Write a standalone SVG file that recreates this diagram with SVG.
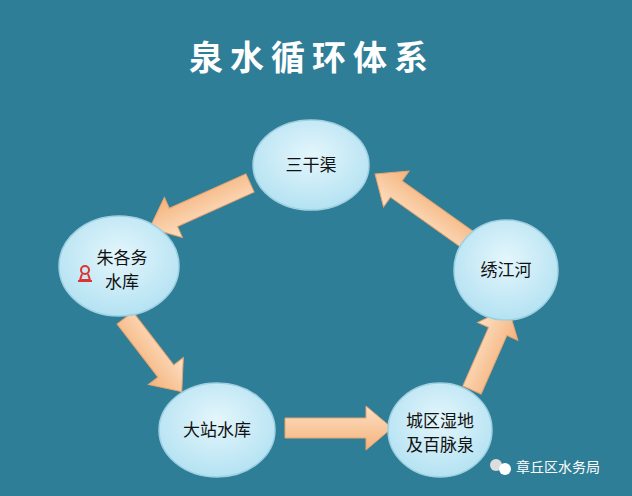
<svg xmlns="http://www.w3.org/2000/svg" width="632" height="496" viewBox="0 0 632 496">
<defs>
<radialGradient id="eg" cx="50%" cy="40%" r="60%"><stop offset="0" stop-color="#e4f6fc"/><stop offset="1" stop-color="#b4e2f2"/></radialGradient>
<linearGradient id="ag" x1="0" y1="0" x2="0" y2="1"><stop offset="0" stop-color="#fde0c4"/><stop offset="1" stop-color="#f4b27a"/></linearGradient>
<style>
.n{fill:url(#eg);stroke:#9fd0e2;stroke-width:1.5}
.t{font-family:"Noto Sans CJK SC",sans-serif;font-size:17px;fill:#111;text-anchor:middle}
.a{fill:url(#ag);stroke:#e8a470;stroke-width:1}
</style>
</defs>
<rect width="632" height="496" fill="#2f7e97"/>
<text x="312" y="70" style="font-family:'Noto Sans CJK SC',sans-serif;font-size:34px;font-weight:bold;fill:#fff;text-anchor:middle;letter-spacing:7px">泉水循环体系</text>
<g id="connectors">
<path class="a" transform="translate(250,183) rotate(155.8)" d="M0,-10 L84,-10 L84,-22 L110,0 L84,22 L84,10 L0,10 Z"/>
<path class="a" transform="translate(125,318) rotate(52.4)" d="M0,-10 L67,-10 L67,-22 L93,0 L67,22 L67,10 L0,10 Z"/>
<path class="a" transform="translate(285,428)" d="M0,-10 L81,-10 L81,-22 L107,0 L81,22 L81,10 L0,10 Z"/>
<path class="a" transform="translate(472,390) rotate(-66.3)" d="M0,-10 L64,-10 L64,-22 L90,0 L64,22 L64,10 L0,10 Z"/>
<path class="a" transform="translate(468,240) rotate(-144.6)" d="M0,-10 L88,-10 L88,-22 L114,0 L88,22 L88,10 L0,10 Z"/>
</g>
<g id="n1"><ellipse class="n" cx="311" cy="165" rx="58" ry="45"/><text class="t" x="311" y="171">三干渠</text></g>
<g id="n2"><ellipse class="n" cx="119" cy="266" rx="60" ry="50"/><text class="t" x="122" y="264">朱各务</text><text class="t" x="122" y="288">水库</text>
<g fill="none" stroke="#d33" stroke-width="2"><circle cx="85" cy="270" r="4"/><path d="M80,280 L90,280 M82,274 L80,280 M88,274 L90,280 M78,281 L92,281"/></g></g>
<g id="n3"><ellipse class="n" cx="506" cy="270" rx="52" ry="50"/><text class="t" x="506" y="276">绣江河</text></g>
<g id="n4"><ellipse class="n" cx="217" cy="430" rx="58" ry="47"/><text class="t" x="217" y="436">大站水库</text></g>
<g id="n5"><ellipse class="n" cx="440" cy="430" rx="52" ry="47"/><text class="t" x="440" y="427">城区湿地</text><text class="t" x="440" y="451">及百脉泉</text></g>
<g id="wm"><circle cx="496" cy="465" r="6" fill="#ddd"/><circle cx="505" cy="469" r="6" fill="#fff"/>
<text x="516" y="472" style="font-family:'Noto Sans CJK SC',sans-serif;font-size:14px;fill:#fff">章丘区水务局</text></g>
</svg>
